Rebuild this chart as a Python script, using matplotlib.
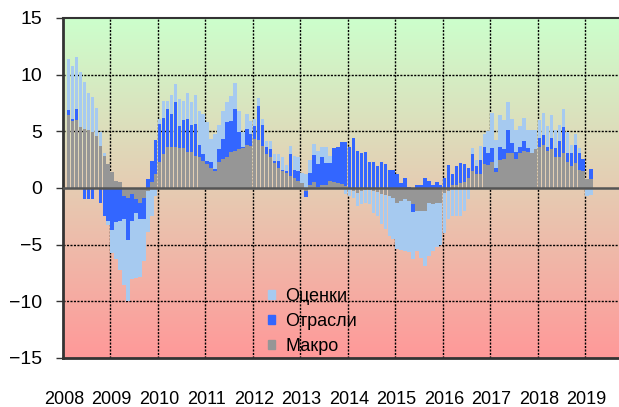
import numpy as np
import matplotlib
matplotlib.use('Agg')
import matplotlib.pyplot as plt
import matplotlib.transforms as mtransforms
from matplotlib.patches import Patch

plt.rcParams['font.family'] = ['Liberation Sans', 'DejaVu Sans']

# monthly contributions, Feb 2008 .. Feb 2019
macro_2008 = [6.4, 5.9, 6.0, 5.4, 5.2, 5.1, 4.9, 4.6, 3.7, 2.8, 2.1]
sect_2008 = [0.5, 0.2, 0.95, 0.0, -1.0, -1.0, -1.0, 0.0, -1.3, -2.5, -2.9]
est_2008 = [4.45, 4.7, 4.65, 4.8, 4.15, 3.3, 3.15, 2.5, 1.25, 0.3, -0.4]

macro_2009 = [1.4, 0.6, 0.5, -0.7, -0.85, -0.55, -1.0, -1.3, -0.85, -0.3, 0.5, 1.25]
sect_2009 = [-3.7, -3.0, -2.9, -2.05, -3.75, -2.35, -1.2, -1.45, -1.85, 0.8, 1.9, 2.95]
est_2009 = [-2.0, -3.3, -4.3, -5.85, -5.4, -5.15, -5.75, -5.1, -3.7, -3.6, -2.45, -0.7]

macro_2010 = [2.25, 3.0, 3.65, 3.65, 3.6, 3.5, 3.5, 3.2, 3.2, 2.85, 2.7, 2.4]
sect_2010 = [3.4, 3.15, 3.3, 2.85, 3.95, 2.0, 2.5, 2.9, 2.35, 2.8, 1.05, 0.6]
est_2010 = [0.45, 1.5, 0.7, 1.7, 1.65, 2.35, 1.7, 2.3, 2.0, 2.55, 3.05, 3.5]

macro_2011 = [2.1, 1.8, 1.5, 2.3, 2.55, 2.7, 3.2, 3.3, 3.45, 3.5, 3.75, 3.7]
sect_2011 = [0.3, 0.45, 0.2, 1.15, 1.75, 3.1, 2.75, 3.65, 1.45, 0.1, 1.45, 1.1]
est_2011 = [3.4, 2.05, 3.05, 2.1, 2.45, 1.8, 2.2, 2.35, 1.9, 1.3, 1.3, 1.1]

macro_2012 = [4.3, 4.2, 3.7, 3.0, 2.75, 2.2, 1.8, 1.5, 1.3, 1.05, 0.9, 0.6]
sect_2012 = [1.2, 3.0, 1.9, 0.65, 0.65, 0.2, 0.6, 0.1, 0.2, 1.95, 0.7, 0.9]
est_2012 = [0.6, 0.7, 0.5, 0.5, 0.75, 0.6, 0.6, 1.1, 0.5, 0.7, 1.2, 1.25]

macro_2013 = [0.45, -0.3, 0.3, 0.5, 0.1, 0.3, 0.3, 0.6, 0.5, 0.4, 0.35, 0.2]
sect_2013 = [0.0, -0.5, 1.05, 2.4, 2.0, 2.4, 1.9, 1.6, 3.05, 3.25, 3.75, 3.9]
est_2013 = [0.9, 1.2, 1.15, 0.95, 1.2, 0.9, 1.4, 0.6, 0.0, 0.0, 0.0, -0.5]

macro_2014 = [-0.1, -0.25, -0.4, -0.25, -0.15, -0.2, -0.3, -0.35, -0.5, -0.6, -0.7, -0.9]
sect_2014 = [3.65, 4.45, 3.3, 3.05, 3.2, 2.3, 2.25, 1.95, 2.3, 2.15, 1.6, 1.6]
est_2014 = [-0.6, -0.6, -1.2, -1.2, -1.15, -1.25, -1.95, -2.1, -2.7, -3.05, -3.55, -3.6]

macro_2015 = [-1.3, -1.15, -1.0, -1.15, -1.45, -2.0, -2.0, -2.0, -1.3, -1.45, -1.3, -1.3]
sect_2015 = [1.2, 0.4, 0.9, 0.1, -0.7, 0.25, 0.3, 0.9, 0.6, 0.25, 0.55, 0.3]
est_2015 = [-4.1, -4.3, -4.55, -4.5, -4.15, -3.6, -4.2, -4.9, -4.7, -4.15, -3.9, -3.7]

macro_2016 = [-0.4, -0.3, 0.3, 0.3, 0.4, 0.5, 0.9, 1.5, 1.2, 1.2, 2.1, 2.0]
sect_2016 = [0.9, 2.0, 0.9, 1.65, 1.8, 1.65, 0.9, 1.5, 0.7, 1.3, 1.5, 1.05]
est_2016 = [-3.55, -2.45, -2.45, -2.45, -2.5, -2.0, -1.0, 0.5, 0.55, 1.2, 1.15, 1.95]

macro_2017 = [2.3, 1.4, 2.45, 2.6, 3.05, 3.05, 2.55, 3.05, 3.25, 3.2, 3.05, 3.4]
sect_2017 = [1.2, 0.4, 1.2, 0.85, 2.05, 0.9, 0.65, 0.6, 0.9, 0.3, 0.0, 0.0]
est_2017 = [3.1, 2.45, 2.75, 2.55, 2.5, 2.1, 1.9, 1.85, 2.0, 1.6, 2.05, 1.7]

macro_2018 = [3.65, 3.75, 3.25, 3.45, 2.75, 2.75, 3.1, 2.25, 1.9, 2.2, 1.6, 1.5]
sect_2018 = [0.75, 0.9, 0.4, 1.0, 0.8, 1.4, 2.3, 0.85, 1.15, 1.55, 1.45, 1.1]
est_2018 = [1.6, 2.0, 1.85, 1.95, 1.55, 1.45, 1.55, 1.8, 0.7, 1.05, 0.5, 0.0]

macro_2019 = [0.8, 0.8]
sect_2019 = [0.0, 0.85]
est_2019 = [-0.7, -0.6]

years = ['2008', '2009', '2010', '2011', '2012', '2013',
         '2014', '2015', '2016', '2017', '2018', '2019']
labels = ['Макро', 'Отрасли', 'Оценки']
colors = ['#969696', '#3366ff', '#a6caf0']

macro = np.concatenate([macro_2008, macro_2009, macro_2010, macro_2011, macro_2012, macro_2013,
                        macro_2014, macro_2015, macro_2016, macro_2017, macro_2018, macro_2019])
sect = np.concatenate([sect_2008, sect_2009, sect_2010, sect_2011, sect_2012, sect_2013,
                       sect_2014, sect_2015, sect_2016, sect_2017, sect_2018, sect_2019])
est = np.concatenate([est_2008, est_2009, est_2010, est_2011, est_2012, est_2013,
                      est_2014, est_2015, est_2016, est_2017, est_2018, est_2019])

W, H = 619, 407
fig = plt.figure(figsize=(W / 100, H / 100), dpi=100)
ax = fig.add_axes([62.7 / W, 1 - 358 / H, 570 / W, 340 / H])
ax.set_xlim(0, 144)
ax.set_ylim(-15, 15)

# background gradient green -> red
top = np.array([204, 255, 204]) / 255
bot = np.array([255, 153, 153]) / 255
t = np.linspace(0, 1, 256)[:, None, None]
grad = top * (1 - t) + bot * t
ax.imshow(grad, extent=[0, 144, -15, 15], aspect='auto', origin='upper', zorder=0)

# grid
for yv in [-10, -5, 5, 10]:
    ax.axhline(yv, color='black', lw=1, ls=(0, (1.5, 1)), zorder=1)
for xv in range(12, 144, 12):
    ax.axvline(xv, color='black', lw=1, ls=(0, (1.5, 1)), zorder=1)

# stacked bars (positives up, negatives down)
x = np.arange(1, len(macro) + 1) + 0.5
pos = np.zeros(len(x))
neg = np.zeros(len(x))
for vals, c in zip([macro, sect, est], colors):
    bottom = np.where(vals >= 0, pos, neg)
    ax.bar(x, vals, bottom=bottom, width=0.88, color=c, linewidth=0, zorder=2)
    pos += np.clip(vals, 0, None)
    neg += np.clip(vals, None, 0)

ax.axhline(0, color='#555555', lw=1.8, zorder=4)

for s in ['left', 'bottom', 'top']:
    ax.spines[s].set_color('#333333')
ax.spines['left'].set_linewidth(2)
ax.spines['bottom'].set_linewidth(2)
ax.spines['top'].set_linewidth(1.5)
ax.spines['right'].set_visible(False)

ax.set_xticks([])
ax.set_yticks(range(-15, 16, 5))
ax.tick_params(axis='y', direction='out', length=5, width=1, color='#333333',
               labelsize=14, pad=10)

# year labels under the start of each year
trans = mtransforms.blended_transform_factory(ax.transData, fig.transFigure)
for i, yr in enumerate(years):
    ax.text(12 * i + 0.3, 1 - 400 / H, yr, transform=trans, ha='center', va='center',
            fontsize=13)

handles = [Patch(color=colors[2]), Patch(color=colors[1]), Patch(color=colors[0])]
ax.legend(handles, [labels[2], labels[1], labels[0]], loc='upper left',
          bbox_to_anchor=(268 / W, 1 - 288 / H), bbox_transform=fig.transFigure,
          frameon=False, fontsize=13, handlelength=0.4, handleheight=0.4,
          handletextpad=0.55, labelspacing=0.45, borderpad=0, borderaxespad=0)

fig.savefig('out.png', dpi=100)
